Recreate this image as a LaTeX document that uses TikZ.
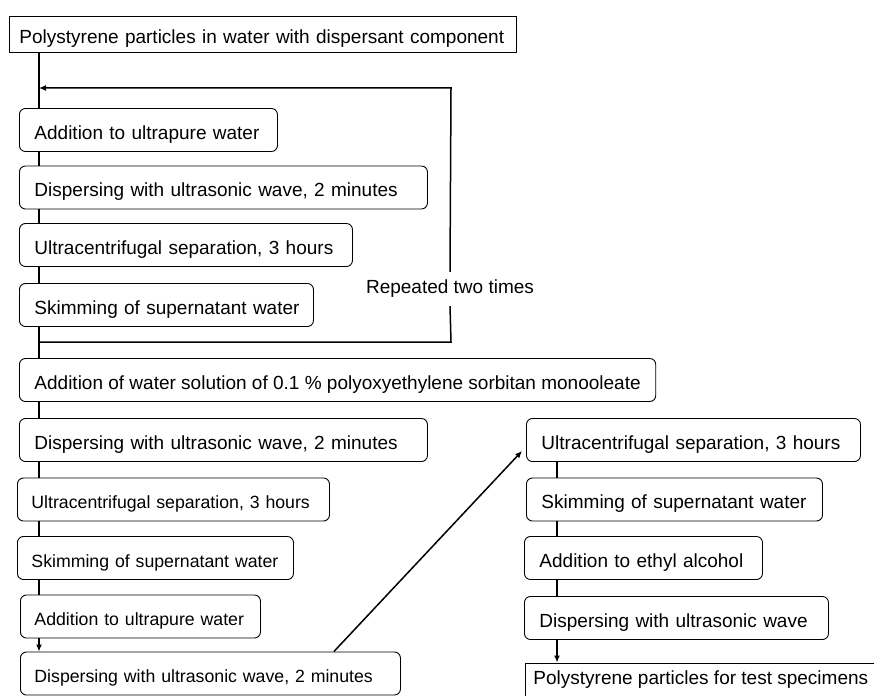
\documentclass[tikz,border=0pt]{standalone}
\usepackage{fontspec}
\setmainfont{Liberation Sans}
\usetikzlibrary{arrows.meta}

\begin{document}
\begin{tikzpicture}[x=1pt,y=-1pt,>={Latex[length=7pt,width=6pt]},
 box/.style={draw,rounded corners=6pt,line width=0.9pt,anchor=west,minimum height=43pt,inner xsep=15pt,align=left,font=\fontsize{19}{22}\selectfont,
   execute at begin node={\rule{0pt}{22pt}}},
 small/.style={box,inner xsep=14pt,font=\fontsize{17.7}{21}\selectfont,
   execute at begin node={\rule{0pt}{21pt}}},
 sq/.style={box,sharp corners,inner ysep=3pt,
   execute at begin node={\rule{0pt}{19pt}}},
 endbox/.style={draw,line width=0.9pt,anchor=base west,inner sep=0pt,text height=21pt,text depth=20pt,font=\fontsize{19}{22}\selectfont},
 arr/.style={line width=1.5pt}]
\useasboundingbox (0,0) rectangle (874,695);
\coordinate (sp) at (39,0);
\coordinate (rsp) at (557,0);
\coordinate (lt) at (451,88);
\coordinate (lb) at (451,342);
% left column
\node[sq,minimum height=36pt,inner xsep=10pt,text width=487pt] (top) at (9,34) {Polystyrene particles in water with dispersant component};
\node[box,text width=228pt] (b1) at (19,130) {Addition to ultrapure water};
\node[box,text width=378pt] (b2) at (19,187.5) {Dispersing with ultrasonic wave, 2 minutes};
\node[box,text width=303pt] (b3) at (19,245) {Ultracentrifugal separation, 3 hours};
\node[box,text width=268pt,inner xsep=13pt] (b4) at (19,305) {\hspace*{2pt}Skimming of supernatant water};
\node[box] (b5) at (19,380) {Addition of water solution of 0.1 \% polyoxyethylene sorbitan monooleate};
\node[box,text width=378pt] (b6) at (19,440) {Dispersing with ultrasonic wave, 2 minutes};
\node[small,text width=284pt] (b7) at (17,499.5) {Ultracentrifugal separation, 3 hours};
\node[small,text width=248pt] (b8) at (17,558) {Skimming of supernatant water};
\node[small,text width=212pt] (b9) at (20,616.5) {Addition to ultrapure water};
\node[small,text width=352pt] (b10) at (20,673.5) {Dispersing with ultrasonic wave, 2 minutes};
\node[font=\fontsize{19}{22}\selectfont,inner ysep=8pt] (rep) at (450,289) {Repeated two times};
% right column
\node[box,text width=304pt] (r1) at (526,440) {Ultracentrifugal separation, 3 hours};
\node[box,text width=266pt] (r2) at (526,499.5) {Skimming of supernatant water};
\node[box,text width=208pt] (r3) at (524,558) {Addition to ethyl alcohol};
\node[box,text width=274pt] (r4) at (524,618) {Dispersing with ultrasonic wave};
\node[endbox] (r5) at (525,684) {\hspace*{8pt}Polystyrene particles for test specimens\hspace*{30pt}};
% connectors
\draw[arr] (top.south -| sp) -- (b1.north -| sp);
\foreach \a/\b in {b1/b2,b2/b3,b3/b4,b4/b5,b5/b6,b6/b7,b7/b8,b8/b9}
  \draw[arr] (\a.south -| sp) -- (\b.north -| sp);
\draw[arr,->] (b9.south -| sp) -- (b10.north -| sp);
\draw[arr,->] (rep.north) -- (lt) -- (lt -| sp);
\draw[arr] (rep.south) -- (lb) -- (lb -| sp);
\draw[arr,->] ([xshift=-67pt]b10.north east) -- ([xshift=-4pt,yshift=-11pt]r1.west);
\foreach \a/\b in {r1/r2,r2/r3,r3/r4}
  \draw[arr] (\a.south -| rsp) -- (\b.north -| rsp);
\draw[arr,->] (r4.south -| rsp) -- (r5.north -| rsp);
\end{tikzpicture}
\end{document}
